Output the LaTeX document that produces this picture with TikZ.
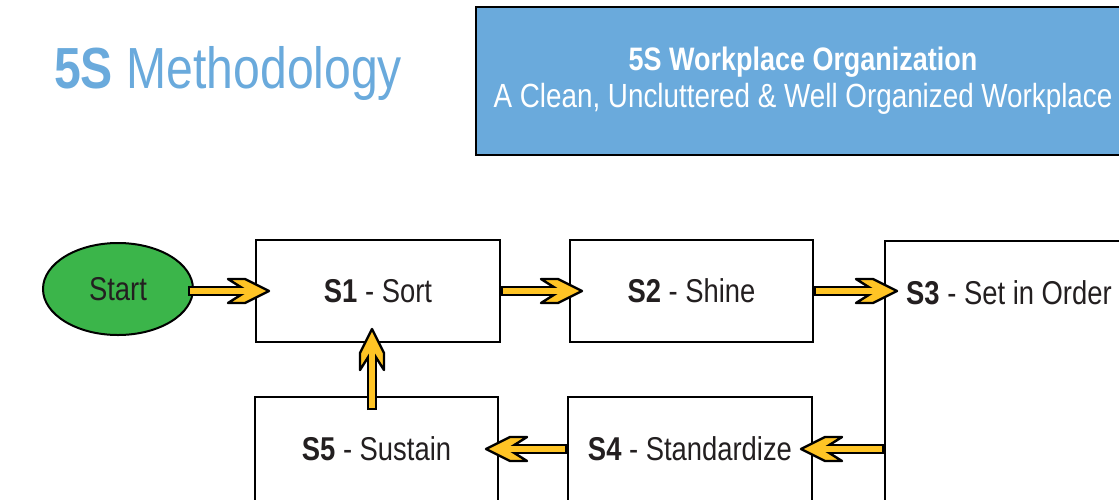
\documentclass[tikz,border=0pt]{standalone}
\usepackage{fontspec}
\setmainfont{Liberation Sans}[FakeStretch=0.83]
\usetikzlibrary{calc,shapes.geometric}
\definecolor{hblue}{HTML}{6AAADC}
\definecolor{sgreen}{HTML}{3BB54A}
\definecolor{ayellow}{HTML}{FFC425}
\definecolor{tdark}{HTML}{231F20}
\tikzset{
  box/.style={draw=black, line width=2pt, fill=white, text=tdark, font=\fontsize{33}{36}\selectfont, inner sep=0pt},
  ashaft/.style={draw=black, line width=10pt},
  ahead/.style={draw=black, fill=ayellow, line width=2.4pt, line join=round},
  afill/.style={draw=ayellow, line width=5.4pt},
}
\newcommand\yarrow[2]{%
  \draw[ashaft] (#1) -- ($(#2)!22pt!(#1)$);
  \filldraw[ahead] (#2) -- ($(#2)!24pt!(#1)!12pt!90:(#1)$) -- ($(#2)!41pt!(#1)!12pt!90:(#1)$)
     -- ($(#2)!22pt!(#1)$) -- ($(#2)!41pt!(#1)!12pt!-90:(#1)$) -- ($(#2)!24pt!(#1)!12pt!-90:(#1)$) -- cycle;
  \draw[afill] ($(#1)!2.2pt!(#2)$) -- ($(#2)!16pt!(#1)$);
}
\begin{document}
\begin{tikzpicture}[x=1pt,y=-1pt]
\useasboundingbox (0,0) rectangle (1119,499);
\clip (0,0) rectangle (1119,499);
% title
\node[anchor=base west, inner sep=0pt, text=hblue, font=\fontsize{58}{60}\selectfont] (title) at (54,88) {\textbf{5S} Methodology};
% header box
\node[draw=black, line width=2.5pt, fill=hblue, minimum width=654, minimum height=148, inner sep=0pt] (header) at (803,81) {};
\node[anchor=base, inner sep=0pt, text=white, font=\fontsize{32.5}{36}\selectfont\bfseries] (h1) at (803,70) {5S Workplace Organization};
\node[anchor=base, inner sep=0pt, text=white, font=\fontsize{33.5}{36}\selectfont] (h2) at (803,107) {A Clean, Uncluttered \& Well Organized Workplace};
% flow nodes
\node[ellipse, draw=black, line width=2pt, fill=sgreen, text=tdark, minimum width=150, minimum height=92, inner sep=0pt, font=\fontsize{33}{36}\selectfont] (start) at (118,289) {Start};
\node[box, minimum width=244, minimum height=102] (s1) at (378,291) {\textbf{S1} - Sort};
\node[box, minimum width=243, minimum height=102] (s2) at (691.5,291) {\textbf{S2} - Shine};
\node[box, anchor=north west, minimum width=260, minimum height=300] (s3) at (884,240) {};
\node[anchor=base west, inner sep=0pt, text=tdark, font=\fontsize{33}{36}\selectfont] (s3t) at (906,304) {\textbf{S3} - Set in Order};
\node[box, minimum width=244, minimum height=104] (s4) at (690,449) {\textbf{S4} - Standardize};
\node[box, minimum width=243, minimum height=104] (s5) at (376.5,449) {\textbf{S5} - Sustain};
% arrow end points
\coordinate (a1s) at ($(start.east)+(-6,2)$);
\coordinate (a1e) at ($(s1.west)+(14,0)$);
\coordinate (a2e) at ($(s2.west)+(13,0)$);
\coordinate (a3e) at ($(s2.east -| s3.west)+(13,0)$);
\coordinate (a4s) at (s4.east -| s3.west);
\coordinate (a4e) at ($(s4.east)+(-12,0)$);
\coordinate (a5e) at ($(s5.east)+(-13,0)$);
\coordinate (a6s) at ($(s5.north)+(-4.5,14)$);
\coordinate (a6e) at ($(s1.south)+(-6,-14)$);
% arrows
\yarrow{a1s}{a1e}
\yarrow{s1.east}{a2e}
\yarrow{s2.east}{a3e}
\yarrow{a4s}{a4e}
\yarrow{s4.west}{a5e}
\yarrow{a6s}{a6e}
\end{tikzpicture}
\end{document}
